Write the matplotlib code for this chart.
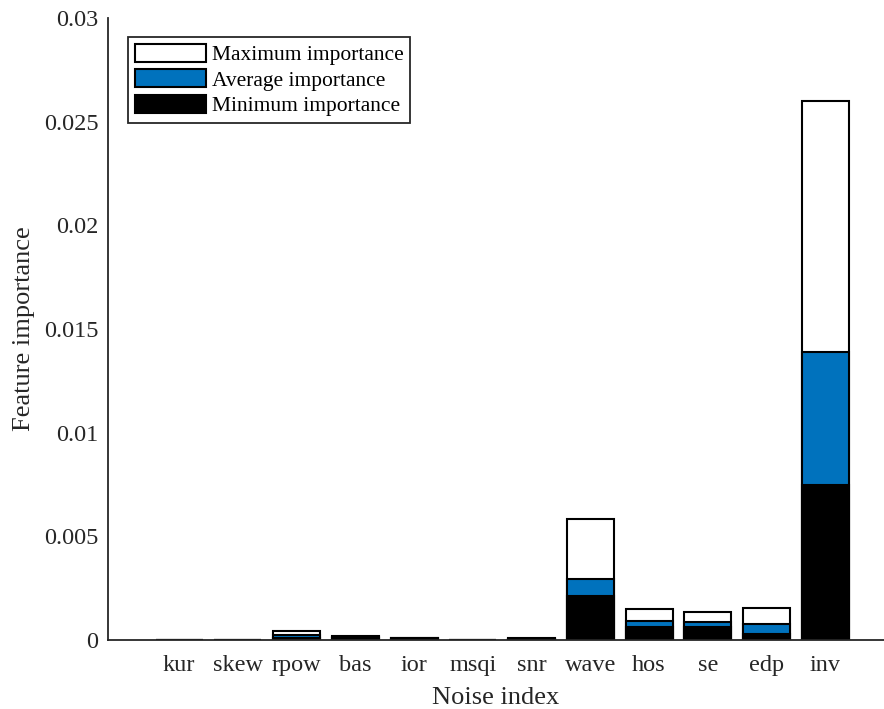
import matplotlib.pyplot as plt
from matplotlib.patches import Patch

plt.rcParams['font.family'] = ['Liberation Serif', 'DejaVu Serif']

# Data
features = ["kur", "skew", "rpow", "bas", "ior", "msqi", "snr",
            "wave", "hos", "se", "edp", "inv"]
max_imp = [0.00002, 0.00002, 0.00042, 0.00019, 0.00010, 0.00002, 0.00008,
           0.00584, 0.00150, 0.00135, 0.00154, 0.02600]
avg_imp = [0.00001, 0.00001, 0.00026, 0.00015, 0.00008, 0.00001, 0.00005,
           0.00294, 0.00092, 0.00087, 0.00077, 0.01389]
min_imp = [0.00001, 0.00001, 0.00012, 0.00012, 0.00006, 0.00001, 0.00003,
           0.00212, 0.00063, 0.00063, 0.00029, 0.00748]

x = list(range(1, len(features) + 1))
blue = '#0072BD'

fig = plt.figure(figsize=(8.84, 7.09), dpi=100)
ax = fig.add_axes([0.1222, 0.0973, 0.8778, 0.8773])

ax.bar(x, max_imp, width=0.8, color='white', edgecolor='black', linewidth=1.5)
ax.bar(x, avg_imp, width=0.8, color=blue, edgecolor='black', linewidth=1.5)
ax.bar(x, min_imp, width=0.8, color='black', edgecolor='black', linewidth=1.5)

ax.set_xlim(-0.21, 13.0)
ax.set_ylim(0, 0.03)
ax.set_xticks(x)
ax.set_xticklabels(features)
ax.set_yticks([0, 0.005, 0.01, 0.015, 0.02, 0.025, 0.03])
ax.set_yticklabels(['0', '0.005', '0.01', '0.015', '0.02', '0.025', '0.03'])
ax.tick_params(length=0, labelsize=17.5, colors='#262626')
ax.tick_params(axis='y', pad=7)
ax.tick_params(axis='x', pad=11)

for s in ['top', 'right']:
    ax.spines[s].set_visible(False)
for s in ['left', 'bottom']:
    ax.spines[s].set_color('#262626')
    ax.spines[s].set_linewidth(1.3)

ax.set_xlabel("Noise index", fontsize=19, labelpad=8, color='#262626')
ax.set_ylabel("Feature importance", fontsize=19, labelpad=6, color='#262626')

handles = [Patch(facecolor='white', edgecolor='black', linewidth=1.5),
           Patch(facecolor=blue, edgecolor='black', linewidth=1.5),
           Patch(facecolor='black', edgecolor='black', linewidth=1.5)]
labels = ["Maximum importance", "Average importance", "Minimum importance"]
leg = ax.legend(handles, labels, loc='upper left', bbox_to_anchor=(0.0258, 0.969),
                borderaxespad=0, fontsize=15.5, handlelength=3.3, handleheight=0.9,
                handletextpad=0.3, labelspacing=0.2, borderpad=0.3,
                fancybox=False, framealpha=1)
leg.get_frame().set_edgecolor('#262626')
leg.get_frame().set_linewidth(1.3)

fig.savefig('out.png', dpi=100)
